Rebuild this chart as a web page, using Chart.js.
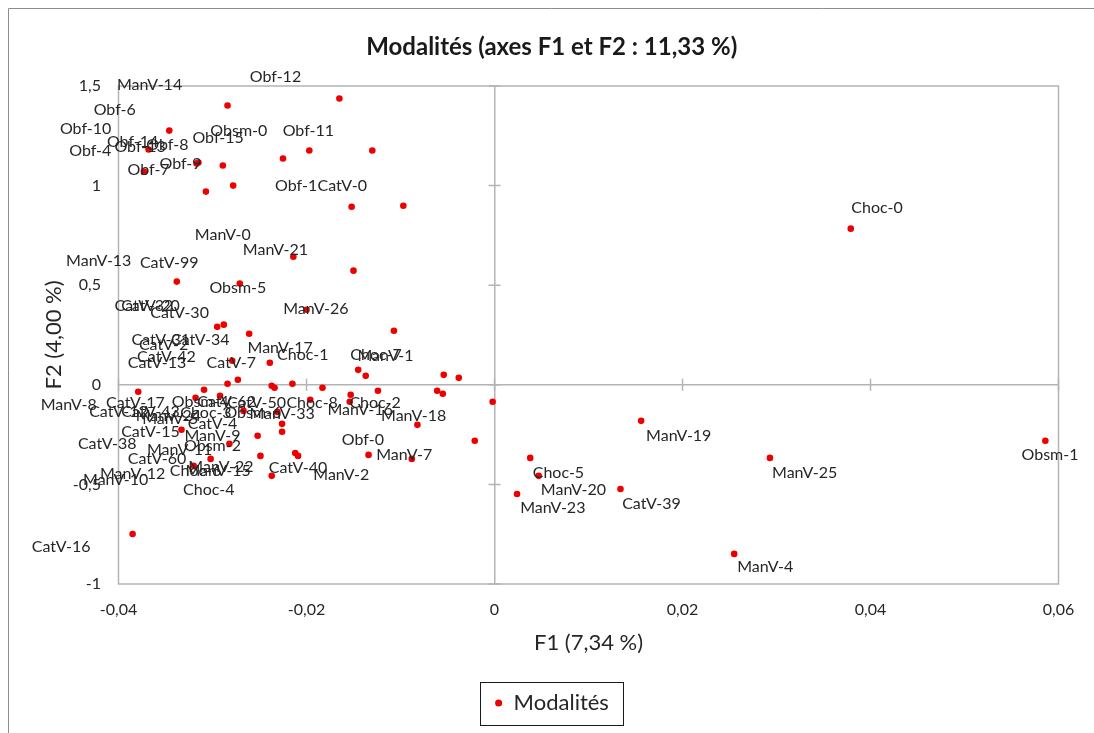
<!DOCTYPE html>
<html><head><meta charset="utf-8">
<script src="https://cdn.jsdelivr.net/npm/chart.js@4/dist/chart.umd.min.js"></script>
<style>html,body{margin:0;padding:0;background:#fff;}#wrap{position:relative;width:1094px;height:733px;}canvas{display:block;}</style>
</head><body><div id="wrap"><canvas id="c" width="1094" height="733"></canvas></div>
<script>
const chartTitle = 'Modalités (axes F1 et F2 : 11,33 %)';
const xTitle = 'F1 (7,34 %)';
const yTitle = 'F2 (4,00 %)';
const seriesName = 'Modalités';
const xTicks = [-0.04, -0.02, 0, 0.02, 0.04, 0.06];
const yTicks = [-1, -0.5, 0, 0.5, 1, 1.5];

const pointX = [
 -0.0284,-0.0165,-0.0346,-0.0368,-0.0373,-0.0317,-0.0315,-0.0289,-0.0307,-0.0278,
 -0.0225,-0.0197,-0.0130,-0.0152,-0.0097,-0.0214,-0.0150,-0.0338,-0.0271,-0.0200,
 -0.0295,-0.0288,-0.0261,-0.0107,-0.0239,-0.0279,-0.0145,-0.0137,-0.0054,-0.0038,
 -0.0273,-0.0284,-0.0379,-0.0309,-0.0318,-0.0292,-0.0237,-0.0234,-0.0215,-0.0183,
 -0.0153,-0.0154,-0.0124,-0.0061,-0.0055,-0.0002,-0.0196,-0.0231,-0.0226,-0.0226,
 -0.0252,-0.0267,-0.0282,-0.0333,-0.0082,-0.0021,-0.0249,-0.0212,-0.0209,-0.0134,
 -0.0088,-0.0302,-0.0320,-0.0237,-0.0385,0.0156,0.0038,0.0047,0.0024,0.0134,
 0.0255,0.0293,0.0379,0.0586];
const pointY = [
 1.402,1.437,1.276,1.181,1.070,1.111,1.116,1.101,0.970,1.000,
 1.136,1.176,1.176,0.894,0.899,0.643,0.573,0.518,0.508,0.377,
 0.291,0.302,0.256,0.271,0.111,0.121,0.075,0.045,0.050,0.035,
 0.025,0.005,-0.035,-0.025,-0.065,-0.055,-0.005,-0.015,0.005,-0.015,
 -0.050,-0.085,-0.030,-0.030,-0.045,-0.085,-0.075,-0.136,-0.196,-0.236,
 -0.256,-0.131,-0.296,-0.226,-0.201,-0.281,-0.357,-0.342,-0.357,-0.352,
 -0.372,-0.372,-0.407,-0.457,-0.749,-0.181,-0.367,-0.457,-0.548,-0.523,
 -0.849,-0.367,0.784,-0.281];

const labelText = [
 'ManV-14','Obf-12','Obf-6','Obf-10','Obf-14','Obf-13','Obf-8','Obf-4','Obf-7','Obf-9',
 'Obsm-0','Obf-15','Obf-11','Obf-1','CatV-0','ManV-0','ManV-21','ManV-13','CatV-99','Obsm-5',
 'ManV-26','CatV-32','CatV-20','CatV-30','CatV-31','CatV-2','CatV-34','CatV-42','CatV-13','CatV-7',
 'ManV-17','Choc-1','Choc-7','ManV-1','ManV-8','CatV-17','CatV-12','CatV-43','ManV-24','Obsm-4',
 'CatV-62','CatV-50','Choc-8','Choc-2','ManV-16','ManV-18','Choc-3','Obsm-6','ManV-33','ManV-5',
 'CatV-4','CatV-15','ManV-9','Obsm-2','ManV-11','CatV-60','CatV-38','ManV-12','ManV-10','Choc-6',
 'ManV-22','ManV-15','Choc-4','CatV-16','CatV-40','ManV-2','Obf-0','ManV-7','ManV-19','Choc-5',
 'ManV-20','ManV-23','CatV-39','ManV-4','ManV-25','Obsm-1','Choc-0'];
const labelX = [
 -0.0367,-0.0233,-0.0404,-0.0435,-0.0385,-0.0377,-0.0348,-0.0430,-0.0368,-0.0334,
 -0.0272,-0.0294,-0.0198,-0.0211,-0.0162,-0.0289,-0.0233,-0.0421,-0.0346,-0.0273,
 -0.0190,-0.0373,-0.0366,-0.0335,-0.0355,-0.0352,-0.0313,-0.0349,-0.0359,-0.0280,
 -0.0228,-0.0204,-0.0126,-0.0116,-0.0453,-0.0382,-0.0400,-0.0366,-0.0347,-0.0313,
 -0.0285,-0.0253,-0.0194,-0.0127,-0.0143,-0.0086,-0.0307,-0.0257,-0.0226,-0.0345,
 -0.0300,-0.0366,-0.0300,-0.0300,-0.0335,-0.0359,-0.0412,-0.0385,-0.0403,-0.0318,
 -0.0291,-0.0294,-0.0304,-0.0461,-0.0209,-0.0163,-0.0140,-0.0096,0.0196,0.0068,
 0.0084,0.0062,0.0167,0.0288,0.0330,0.0591,0.0407];
const labelY = [
 1.508,1.548,1.382,1.286,1.221,1.196,1.206,1.176,1.080,1.111,
 1.276,1.241,1.276,1.000,1.000,0.754,0.678,0.623,0.613,0.487,
 0.382,0.397,0.397,0.362,0.226,0.201,0.226,0.141,0.111,0.111,
 0.186,0.151,0.151,0.146,-0.101,-0.090,-0.136,-0.136,-0.156,-0.085,
 -0.085,-0.090,-0.090,-0.090,-0.126,-0.156,-0.141,-0.141,-0.146,-0.171,
 -0.196,-0.236,-0.256,-0.307,-0.327,-0.372,-0.296,-0.447,-0.477,-0.432,
 -0.412,-0.432,-0.528,-0.814,-0.417,-0.452,-0.276,-0.352,-0.256,-0.442,
 -0.528,-0.618,-0.598,-0.915,-0.442,-0.352,0.889];

const TXT = '#262626';
const GRAY = '#b4b4b4';
const fmt = v => { const n = Number(Number(v).toFixed(4)); return String(n).replace('.', ','); };

const chromePlugin = {
  id: 'chrome',
  beforeDraw(chart) {
    const c = chart.ctx;
    c.save();
    c.fillStyle = '#fff';
    c.fillRect(0, 0, chart.width, chart.height);
    c.strokeStyle = '#8c8c8c';
    c.lineWidth = 1;
    c.beginPath();
    c.moveTo(8.5, chart.height); c.lineTo(8.5, 8.5); c.lineTo(chart.width, 8.5);
    c.stroke();
    c.restore();
  },
  beforeDatasetsDraw(chart) {
    const c = chart.ctx, a = chart.chartArea, xs = chart.scales.x, ys = chart.scales.y;
    c.save();
    c.strokeStyle = GRAY; c.lineWidth = 1.5;
    c.strokeRect(a.left, a.top, a.right - a.left, a.bottom - a.top);
    const x0 = xs.getPixelForValue(0), y0 = ys.getPixelForValue(0);
    c.beginPath();
    yTicks.forEach(v => { const p = ys.getPixelForValue(v); c.moveTo(x0 - 6, p); c.lineTo(x0 + 6, p); });
    xTicks.forEach(v => { const p = xs.getPixelForValue(v); c.moveTo(p, y0 - 6); c.lineTo(p, y0 + 6); });
    c.stroke();
    c.restore();
  },
  afterDatasetsDraw(chart) {
    const c = chart.ctx, xs = chart.scales.x, ys = chart.scales.y;
    c.save();
    c.font = '16px Lato';
    c.fillStyle = TXT;
    c.textAlign = 'center';
    c.textBaseline = 'middle';
    labelText.forEach((t, i) => {
      c.fillText(t, xs.getPixelForValue(labelX[i]), ys.getPixelForValue(labelY[i]));
    });
    c.restore();
  },
  afterDraw(chart) {
    const lg = chart.legend;
    if (!lg || !lg.legendHitBoxes || !lg.legendHitBoxes.length) return;
    const h = lg.legendHitBoxes[0];
    const cx = h.left + h.width / 2, cy = h.top + h.height / 2;
    const c = chart.ctx;
    c.save();
    c.strokeStyle = '#1a1a1a'; c.lineWidth = 1;
    c.strokeRect(Math.round(cx - 71.5) + 0.5, Math.round(cy - 21.5) + 0.5, 143, 43);
    c.restore();
  }
};

new Chart(document.getElementById('c'), {
  type: 'scatter',
  data: {
    datasets: [{
      label: seriesName,
      data: pointX.map((x, i) => ({ x: x, y: pointY[i] })),
      backgroundColor: '#ee0000',
      borderColor: '#ee0000',
      pointRadius: 3.3,
      pointHoverRadius: 4,
      borderWidth: 0
    }]
  },
  options: {
    responsive: false,
    animation: false,
    devicePixelRatio: 1,
    layout: { padding: { left: 45, right: 35.5, top: 0, bottom: 9 } },
    plugins: {
      title: {
        display: true, text: chartTitle, color: '#1a1a1a',
        font: { family: 'Lato', size: 24, weight: 'bold', lineHeight: 1.2 },
        padding: { top: 32.6, bottom: 24.6 }
      },
      legend: {
        display: true, position: 'bottom',
        labels: {
          usePointStyle: true, pointStyle: 'circle', boxWidth: 8, boxHeight: 5,
          padding: 10, color: TXT,
          font: { family: 'Lato', size: 22 }
        }
      },
      tooltip: { enabled: false }
    },
    scales: {
      x: {
        type: 'linear', min: -0.04, max: 0.06,
        afterBuildTicks: s => { s.ticks = xTicks.map(v => ({ value: v })); },
        afterFit: s => { s.height = s.chart.height - 9 - s.chart.legend.height - 584; },
        ticks: { color: TXT, font: { family: 'Lato', size: 16 }, padding: 16, callback: v => fmt(v), maxRotation: 0 },
        grid: { drawTicks: false, lineWidth: 1.5, color: c => (Math.abs(c.tick.value) < 1e-9 ? GRAY : 'rgba(0,0,0,0)') },
        border: { display: false },
        title: { display: true, text: xTitle, color: TXT, font: { family: 'Lato', size: 22, lineHeight: 1.2 }, padding: { top: 0, bottom: 25.8 } }
      },
      y: {
        type: 'linear', min: -1, max: 1.5,
        afterBuildTicks: s => { s.ticks = yTicks.map(v => ({ value: v })); },
        afterFit: s => { s.width = 73.5; },
        ticks: { color: TXT, font: { family: 'Lato', size: 16 }, padding: 17.5, callback: v => fmt(v) },
        grid: { drawTicks: false, lineWidth: 1.5, color: c => (Math.abs(c.tick.value) < 1e-9 ? GRAY : 'rgba(0,0,0,0)') },
        border: { display: false },
        title: { display: true, text: yTitle, color: TXT, font: { family: 'Lato', size: 22, lineHeight: 1.2 }, padding: { top: -4, bottom: 0 } }
      }
    }
  },
  plugins: [chromePlugin]
});
</script></body></html>
